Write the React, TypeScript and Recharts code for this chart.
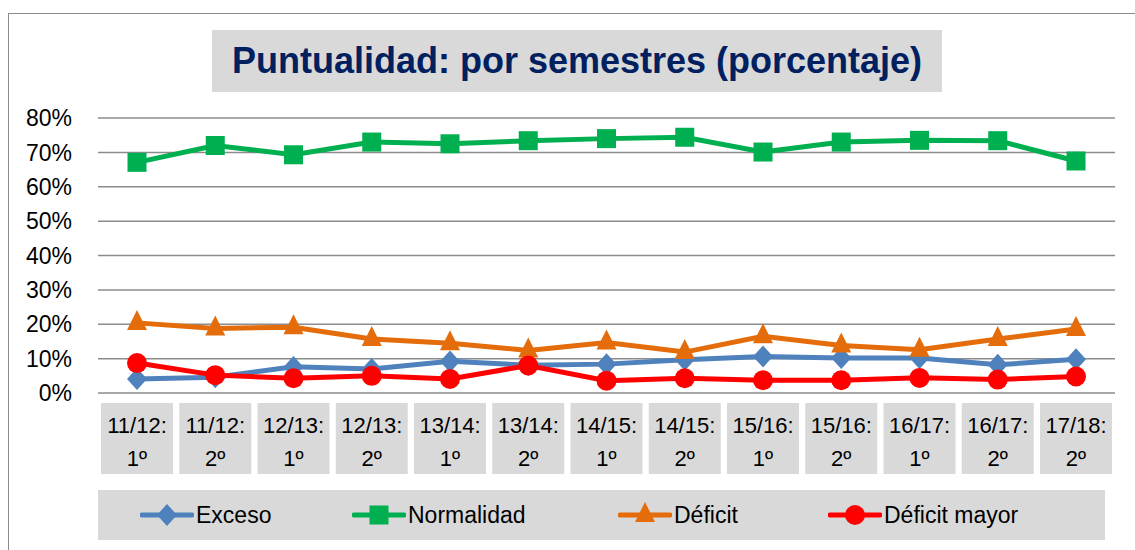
import React from 'react'
import {
  LineChart, Line, XAxis, YAxis, CartesianGrid, Legend,
} from 'recharts'

const CATEGORIES = [
  '11/12:|1º', '11/12:|2º', '12/13:|1º', '12/13:|2º', '13/14:|1º', '13/14:|2º', '14/15:|1º',
  '14/15:|2º', '15/16:|1º', '15/16:|2º', '16/17:|1º', '16/17:|2º', '17/18:|2º',
]
const EXCESO = [4.1, 4.6, 7.6, 7.0, 9.2, 8.1, 8.4, 9.7, 10.6, 10.2, 10.2, 8.2, 9.8]
const NORMALIDAD = [67.1, 72.0, 69.3, 73.0, 72.5, 73.4, 74.0, 74.4, 70.1, 73.0, 73.5, 73.4, 67.5]
const DEFICIT = [20.4, 18.8, 19.1, 15.7, 14.5, 12.4, 14.7, 11.9, 16.5, 13.8, 12.6, 15.7, 18.6]
const DEFICIT_MAYOR = [8.7, 5.2, 4.3, 5.0, 4.1, 8.0, 3.6, 4.3, 3.7, 3.7, 4.4, 3.9, 4.8]
const Y_TICKS = [0, 10, 20, 30, 40, 50, 60, 70, 80]

const COLORS = {
  exceso: '#4f81bd',
  normalidad: '#00b050',
  deficit: '#e46c0a',
  mayor: '#ff0000',
}
const FONT = '"Liberation Sans", Arial, sans-serif'

const data = CATEGORIES.map((c, i) => ({
  name: c,
  exceso: EXCESO[i],
  normalidad: NORMALIDAD[i],
  deficit: DEFICIT[i],
  mayor: DEFICIT_MAYOR[i],
}))

type Shape = 'diamond' | 'square' | 'triangle' | 'circle'

function Marker({ cx, cy, shape, color }: { cx: number; cy: number; shape: Shape; color: string }) {
  if (cx == null || cy == null) return null
  if (shape === 'diamond') {
    return <polygon points={`${cx},${cy - 11} ${cx + 10},${cy} ${cx},${cy + 11} ${cx - 10},${cy}`} fill={color} />
  }
  if (shape === 'square') {
    return <rect x={cx - 9.5} y={cy - 9.5} width={19} height={19} fill={color} />
  }
  if (shape === 'triangle') {
    return <polygon points={`${cx},${cy - 13} ${cx + 10},${cy + 7} ${cx - 10},${cy + 7}`} fill={color} />
  }
  return <circle cx={cx} cy={cy} r={10} fill={color} />
}

const dot = (shape: Shape, color: string) => (props: any) =>
  <Marker key={`${shape}-${props.index}`} cx={props.cx} cy={props.cy} shape={shape} color={color} />

// etiqueta del eje X: caja gris con dos líneas
function CategoryTick({ x, y, payload }: any) {
  const [a, b] = String(payload.value).split('|')
  return (
    <g>
      <rect x={x - 36} y={y + 10} width={72} height={71} fill="#d9d9d9" />
      <text x={x} y={y + 40} textAnchor="middle" fontSize={22} fontFamily={FONT} fill="#000">{a}</text>
      <text x={x} y={y + 73} textAnchor="middle" fontSize={22} fontFamily={FONT} fill="#000">{b}</text>
    </g>
  )
}

const LEGEND_ITEMS: { key: string; label: string; shape: Shape; color: string; w: number }[] = [
  { key: 'exceso', label: 'Exceso', shape: 'diamond', color: COLORS.exceso, w: 212 },
  { key: 'normalidad', label: 'Normalidad', shape: 'square', color: COLORS.normalidad, w: 266 },
  { key: 'deficit', label: 'Déficit', shape: 'triangle', color: COLORS.deficit, w: 210 },
  { key: 'mayor', label: 'Déficit mayor', shape: 'circle', color: COLORS.mayor, w: 230 },
]

function LegendBox() {
  return (
    <div style={{
      height: 50, background: '#d9d9d9', display: 'flex', alignItems: 'center',
      paddingLeft: 42, boxSizing: 'border-box', fontFamily: FONT, fontSize: 23,
    }}>
      {LEGEND_ITEMS.map(it => (
        <div key={it.key} style={{ display: 'flex', alignItems: 'center', width: it.w, flex: 'none' }}>
          <svg width={54} height={26}>
            <line x1={2} y1={13} x2={52} y2={13} stroke={it.color} strokeWidth={5} strokeLinecap="round" />
            <Marker cx={27} cy={13} shape={it.shape} color={it.color} />
          </svg>
          <span style={{ marginLeft: 2 }}>{it.label}</span>
        </div>
      ))}
    </div>
  )
}

export default function App() {
  return (
    <div style={{ position: 'fixed', left: 0, top: 0, width: 1135, height: 550, background: '#fff', overflow: 'hidden' }}>
      <div style={{
        position: 'absolute', left: 8, top: 13, width: 1140, height: 600,
        border: '1.5px solid #8c8c8c', boxSizing: 'border-box',
      }} />
      <div style={{
        position: 'absolute', left: 212, top: 30, width: 730, height: 62, background: '#d9d9d9',
        display: 'flex', alignItems: 'center', justifyContent: 'center',
        fontFamily: FONT, fontWeight: 'bold', fontSize: 36, color: '#002060',
      }}>
        Puntualidad: por semestres (porcentaje)
      </div>
      <div style={{ position: 'absolute', left: 0, top: 0 }}>
        <LineChart width={1135} height={550} data={data}
          margin={{ top: 118, right: 20, bottom: 17, left: 8 }}>
          <CartesianGrid vertical={false} stroke="#8c8c8c" strokeWidth={1.5} />
          <XAxis dataKey="name" axisLine={false} tickLine={false} tickSize={0} tickMargin={0}
            height={90} interval={0} tick={<CategoryTick />} padding={{ left: 39, right: 39 }} />
          <YAxis domain={[0, 80]} ticks={Y_TICKS} width={90} axisLine={false} tickLine={false}
            tickSize={0} tickMargin={26} tickFormatter={(v: number) => `${v}%`}
            tick={{ fontSize: 23, fill: '#000', fontFamily: FONT }} />
          <Legend verticalAlign="bottom" content={<LegendBox />}
            wrapperStyle={{ left: 98, top: 490, width: 1007, height: 50 }} />
          <Line dataKey="exceso" stroke={COLORS.exceso} strokeWidth={5} isAnimationActive={false}
            dot={dot('diamond', COLORS.exceso)} activeDot={false} />
          <Line dataKey="normalidad" stroke={COLORS.normalidad} strokeWidth={5} isAnimationActive={false}
            dot={dot('square', COLORS.normalidad)} activeDot={false} />
          <Line dataKey="deficit" stroke={COLORS.deficit} strokeWidth={5} isAnimationActive={false}
            dot={dot('triangle', COLORS.deficit)} activeDot={false} />
          <Line dataKey="mayor" stroke={COLORS.mayor} strokeWidth={5} isAnimationActive={false}
            dot={dot('circle', COLORS.mayor)} activeDot={false} />
        </LineChart>
      </div>
    </div>
  )
}
